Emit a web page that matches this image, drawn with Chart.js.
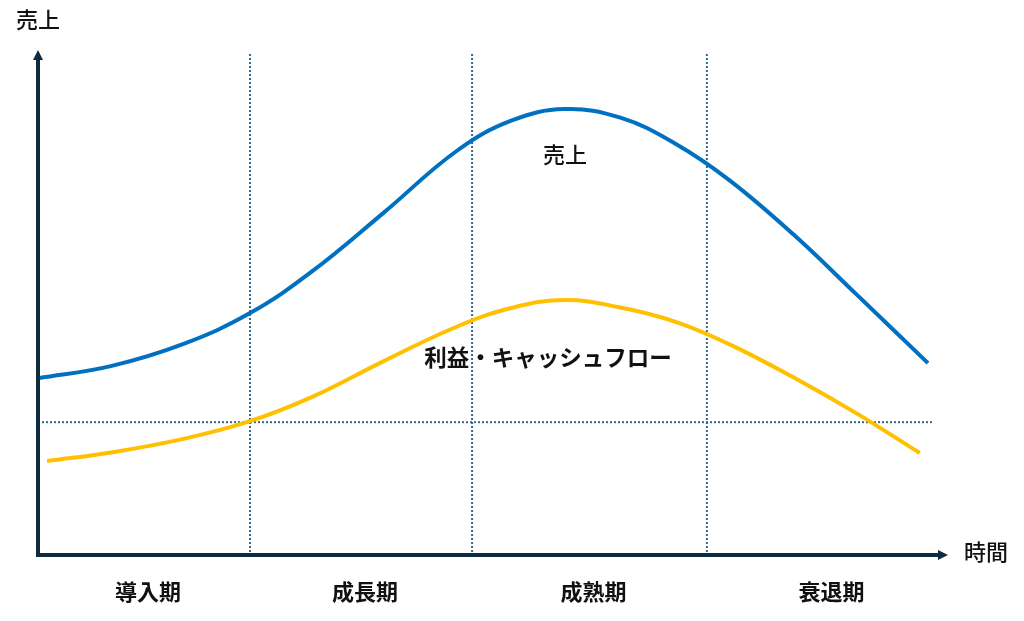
<!DOCTYPE html>
<html>
<head>
<meta charset="utf-8">
<script src="https://cdn.jsdelivr.net/npm/chart.js@4"></script>
<style>
  html, body { margin: 0; padding: 0; background: #fff; }
  #wrap { width: 1024px; height: 621px; }
</style>
</head>
<body>
<div id="wrap"><canvas id="plc"></canvas></div>
<script>
// product life cycle, time 0..100, value 0..100
const salesTime = [0, 8, 16, 23.3, 30, 38, 46, 52, 57.9, 64, 70, 76, 83, 90, 97.8];
const salesValues = [35.0, 37.4, 41.8, 47.9, 56.0, 67.8, 80.0, 86.0, 88.3, 86.6, 81.5, 74.2, 63.5, 51.5, 38.0];
const profitTime = [1.0, 8, 16, 23.3, 30, 38, 46, 52, 57.9, 64, 70, 76, 83, 90, 96.9];
const profitValues = [18.6, 20.3, 23.0, 26.5, 31.2, 38.4, 45.2, 48.9, 50.5, 49.0, 46.2, 41.7, 35.2, 28.0, 20.2];
const phaseNames = ['導入期', '成長期', '成熟期', '衰退期'];
const phaseBounds = [0, 23.3, 47.7, 73.5, 100];
const baseLine = 26.3;
const baseLineEnd = 98.4;

const FONT = '"Noto Sans CJK JP", "Noto Sans", sans-serif';
const AXIS = '#0f2b40';
const DOT = '#2e6a8e';

function toXY(xs, ys) {
  return xs.map((x, i) => ({ x: x, y: ys[i] }));
}

const decor = {
  id: 'decor',
  beforeDatasetsDraw(chart) {
    const ctx = chart.ctx;
    const xs = chart.scales.x, ys = chart.scales.y;
    const a = chart.chartArea;
    ctx.save();
    // dotted guides
    ctx.strokeStyle = DOT;
    ctx.lineWidth = 2;
    ctx.setLineDash([2, 2]);
    for (let i = 1; i < phaseBounds.length - 1; i++) {
      const px = xs.getPixelForValue(phaseBounds[i]);
      ctx.beginPath();
      ctx.moveTo(px, a.top + 4);
      ctx.lineTo(px, a.bottom);
      ctx.stroke();
    }
    const py = ys.getPixelForValue(baseLine);
    ctx.beginPath();
    ctx.moveTo(a.left, py);
    ctx.lineTo(xs.getPixelForValue(baseLineEnd), py);
    ctx.stroke();
    ctx.restore();
  },
  afterDatasetsDraw(chart) {
    const ctx = chart.ctx;
    const xs = chart.scales.x, ys = chart.scales.y;
    const a = chart.chartArea;
    ctx.save();
    // axes
    ctx.strokeStyle = AXIS;
    ctx.fillStyle = AXIS;
    ctx.lineWidth = 4;
    ctx.beginPath();
    ctx.moveTo(a.left, a.top + 8);
    ctx.lineTo(a.left, a.bottom);
    ctx.lineTo(a.right - 8, a.bottom);
    ctx.stroke();
    ctx.beginPath();
    ctx.moveTo(a.left, a.top);
    ctx.lineTo(a.left - 5, a.top + 10);
    ctx.lineTo(a.left + 5, a.top + 10);
    ctx.closePath();
    ctx.fill();
    ctx.beginPath();
    ctx.moveTo(a.right, a.bottom);
    ctx.lineTo(a.right - 10, a.bottom - 5);
    ctx.lineTo(a.right - 10, a.bottom + 5);
    ctx.closePath();
    ctx.fill();

    // texts
    ctx.fillStyle = '#111';
    ctx.textAlign = 'center';
    ctx.textBaseline = 'middle';
    ctx.font = '500 22px ' + FONT;
    ctx.fillText('売上', 38, 20);
    ctx.fillText('時間', 986, 552);
    ctx.fillText('売上', xs.getPixelForValue(57.9), 155);
    ctx.font = 'bold 22.5px ' + FONT;
    ctx.fillText('利益・キャッシュフロー', 548, 357);
    ctx.font = 'bold 22px ' + FONT;
    for (let i = 0; i < phaseNames.length; i++) {
      const mid = (phaseBounds[i] + phaseBounds[i + 1]) / 2;
      ctx.fillText(phaseNames[i], xs.getPixelForValue(mid) + 4, 592);
    }
    ctx.restore();
  }
};

new Chart(document.getElementById('plc'), {
  type: 'line',
  data: {
    datasets: [
      {
        label: '売上',
        data: toXY(salesTime, salesValues),
        borderColor: '#0070c0',
        borderWidth: 4,
        pointRadius: 0,
        tension: 0.4,
        clip: false
      },
      {
        label: '利益・キャッシュフロー',
        data: toXY(profitTime, profitValues),
        borderColor: '#ffc000',
        borderWidth: 4,
        pointRadius: 0,
        tension: 0.4,
        clip: false
      }
    ]
  },
  options: {
    responsive: true,
    maintainAspectRatio: false,
    animation: false,
    layout: { padding: { left: 38, right: 76, top: 50, bottom: 66 } },
    plugins: { legend: { display: false }, tooltip: { enabled: false } },
    scales: {
      x: { type: 'linear', min: 0, max: 100, display: false },
      y: { type: 'linear', min: 0, max: 100, display: false }
    }
  },
  plugins: [decor]
});
</script>
</body>
</html>
